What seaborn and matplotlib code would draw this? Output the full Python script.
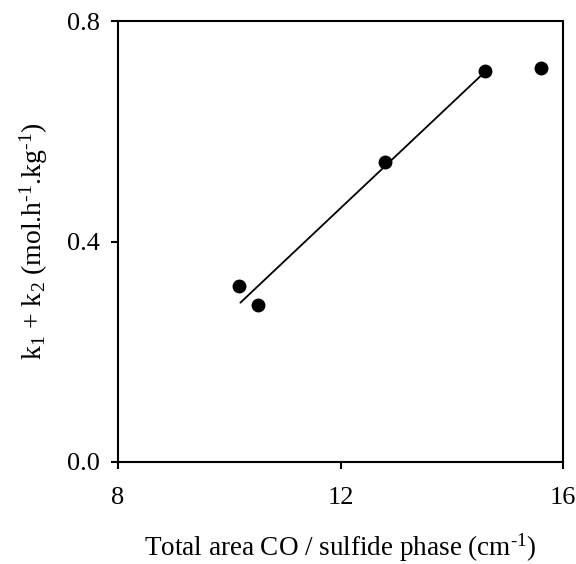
import matplotlib
matplotlib.use("Agg")
import matplotlib.pyplot as plt
import seaborn as sns
import pandas as pd

# data
area = [10.18, 10.52, 12.80, 14.60, 15.61]
k_sum = [0.319, 0.285, 0.544, 0.710, 0.715]
fit_x = [10.2, 14.6]
fit_y = [0.289, 0.708]
xticks = [8, 12, 16]
yticks = [0.0, 0.4, 0.8]

sns.set_theme(style="ticks")
plt.rcParams['font.family'] = ['Liberation Serif', 'DejaVu Serif']
plt.rcParams['mathtext.fontset'] = 'custom'
plt.rcParams['mathtext.rm'] = 'Liberation Serif'
plt.rcParams['mathtext.it'] = 'Liberation Serif'

df = pd.DataFrame({"x": area, "y": k_sum})
fit = pd.DataFrame({"x": fit_x, "y": fit_y})

fig = plt.figure(figsize=(5.76, 5.64), dpi=100)
ax = fig.add_axes([118/576, 1-462/564, (563-118)/576, (462-21)/564])

sns.lineplot(data=fit, x="x", y="y", ax=ax, color="black", linewidth=1.3)
sns.scatterplot(data=df, x="x", y="y", ax=ax, color="black", s=100, edgecolor="black", linewidth=0, zorder=3)

ax.set_xlim(8, 16)
ax.set_ylim(0, 0.8)
ax.set_xticks(xticks)
ax.set_xticklabels([str(t) for t in xticks])
ax.set_yticks(yticks)
ax.set_yticklabels([f"{t:.1f}" for t in yticks])
for s in ax.spines.values():
    s.set_visible(True)
    s.set_linewidth(1.5)
    s.set_color("black")
ax.tick_params(axis="both", direction="out", length=5, width=1.5, color="black", labelsize=19, labelcolor="black", pad=8)
ax.tick_params(axis="x", pad=13)

ax.set_xlabel(r"Total area CO / sulfide phase (cm$^{\text{-1}}$)", fontsize=19.5, color="black", labelpad=16)
ax.set_ylabel(r"k$_{\mathregular{1}}$ + k$_{\mathregular{2}}$ (mol.h$^{\text{-1}}$.kg$^{\text{-1}}$)", fontsize=20, color="black", labelpad=12)

fig.savefig("out.png", dpi=100, facecolor="white")
